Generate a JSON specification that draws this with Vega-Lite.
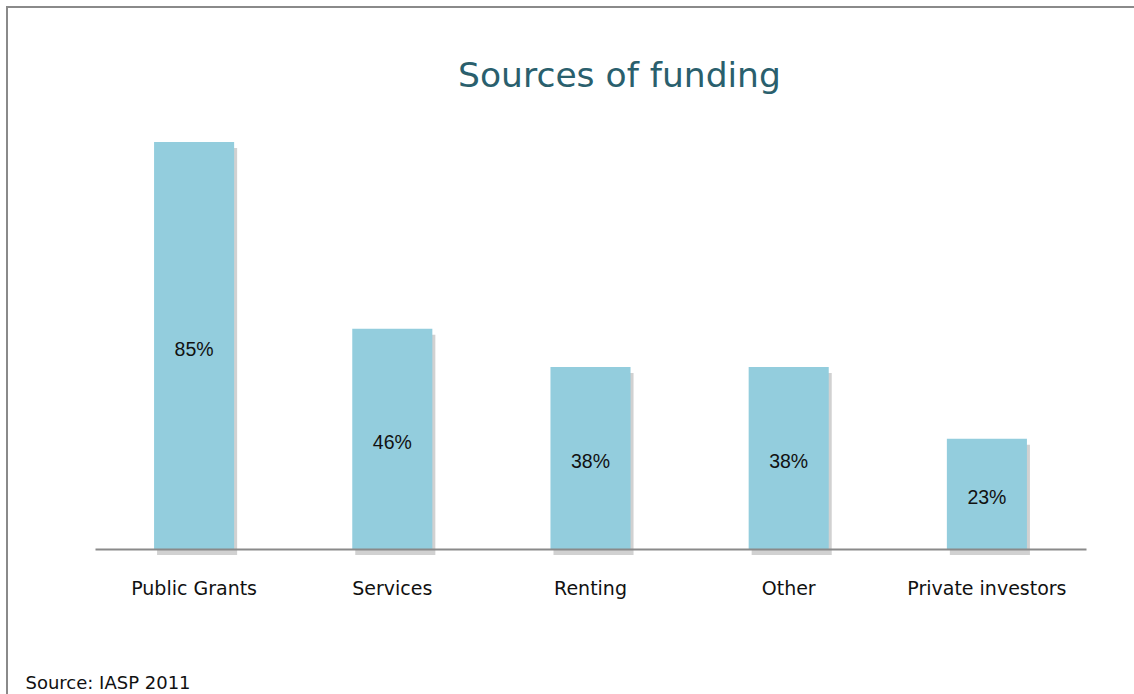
{
  "$schema": "https://vega.github.io/schema/vega-lite/v6.json",
  "autosize": {"type": "none"},
  "padding": {"left": 7, "top": 7, "right": -4, "bottom": -4},
  "width": 1131,
  "height": 691,
  "background": "white",
  "view": {"stroke": "#8a8a8a", "strokeWidth": 2, "fill": "white"},
  "title": {
    "text": "Sources of funding",
    "font": "DejaVu Sans",
    "fontSize": 34.5,
    "fontWeight": "normal",
    "color": "#2A5F6D",
    "anchor": "middle",
    "frame": "group",
    "orient": "top",
    "baseline": "alphabetic",
    "offset": 0,
    "dx": 47,
    "dy": 114
  },
  "data": {
    "values": [
      {"source": "Public Grants", "share": 85},
      {"source": "Services", "share": 46},
      {"source": "Renting", "share": 38},
      {"source": "Other", "share": 38},
      {"source": "Private investors", "share": 23}
    ]
  },
  "transform": [
    {"calculate": "datum.share / 2", "as": "mid"},
    {"calculate": "datum.share + '%'", "as": "label"}
  ],
  "encoding": {
    "x": {
      "field": "source",
      "type": "nominal",
      "sort": null,
      "scale": {"range": [88, 1079], "paddingInner": 0.596, "paddingOuter": 0.298},
      "axis": {
        "title": "Source: IASP 2011",
        "titleFont": "DejaVu Sans",
        "titleFontSize": 18,
        "titleFontWeight": "normal",
        "titleColor": "#111111",
        "titleAnchor": "start",
        "titleAlign": "left",
        "titleBaseline": "alphabetic",
        "titleX": 18,
        "titleY": 139,
        "offset": -149,
        "zindex": 1,
        "domainColor": "#8a8a8a",
        "domainWidth": 2,
        "ticks": false,
        "tickSize": 0,
        "labelFont": "DejaVu Sans",
        "labelFontSize": 19,
        "labelColor": "#111111",
        "labelAngle": 0,
        "labelBaseline": "alphabetic",
        "labelPadding": 45
      }
    }
  },
  "layer": [
    {
      "mark": {"type": "bar", "color": "#9a9a9a", "opacity": 0.45, "xOffset": 3, "yOffset": 6, "y2Offset": -6},
      "encoding": {
        "y": {"field": "share", "type": "quantitative", "scale": {"domain": [0, 85], "range": [542, 135]}, "axis": null}
      }
    },
    {
      "mark": {"type": "bar", "color": "#93CDDD"},
      "encoding": {
        "y": {"field": "share", "type": "quantitative", "scale": {"domain": [0, 85], "range": [542, 135]}, "axis": null}
      }
    },
    {
      "mark": {"type": "text", "font": "Liberation Sans", "fontSize": 19.5, "color": "#111111", "baseline": "middle", "dy": 4},
      "encoding": {
        "y": {"field": "mid", "type": "quantitative", "scale": {"domain": [0, 85], "range": [542, 135]}, "axis": null},
        "text": {"field": "label", "type": "nominal"}
      }
    }
  ]
}
